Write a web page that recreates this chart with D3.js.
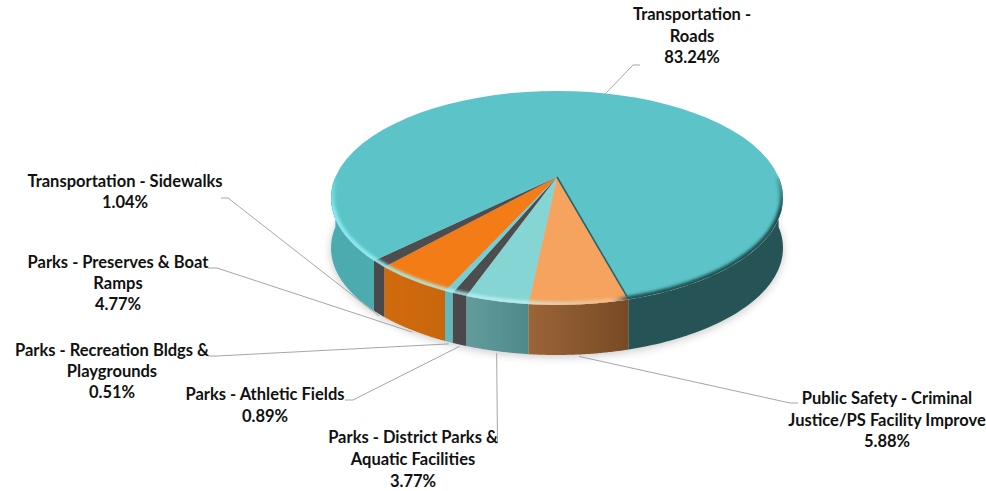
<!DOCTYPE html>
<html>
<head>
<meta charset="utf-8">
<script src="https://cdn.jsdelivr.net/npm/d3@7"></script>
<style>
  html, body { margin: 0; padding: 0; background: #fff; }
  svg { display: block; }
  text { font-family: Lato, "Open Sans", sans-serif; font-weight: 700; font-size: 16.5px; fill: #111; }
</style>
</head>
<body>
<svg id="chart" width="986" height="491"></svg>
<script>
// Capital spending shares, clockwise from the Public Safety wedge.
const categories = [
  "Public Safety - Criminal Justice/PS Facility Improve",
  "Parks - District Parks & Aquatic Facilities",
  "Parks - Athletic Fields",
  "Parks - Recreation Bldgs & Playgrounds",
  "Parks - Preserves & Boat Ramps",
  "Transportation - Sidewalks",
  "Transportation - Roads"
];
const shares = [5.88, 3.77, 0.89, 0.51, 4.77, 1.04, 83.24];
const labelLines = [
  ["Public Safety - Criminal", "Justice/PS Facility Improve"],
  ["Parks - District Parks &", "Aquatic Facilities"],
  ["Parks - Athletic Fields"],
  ["Parks - Recreation Bldgs &", "Playgrounds"],
  ["Parks - Preserves & Boat", "Ramps"],
  ["Transportation - Sidewalks"],
  ["Transportation -", "Roads"]
];

// Slice colours: top face, then side wall at its left and right ends.
const topColors  = ["#F5A35F", "#85D5D5", "#4D4D4F", "#74CFD3", "#F47B14", "#4D4D4F", "#5BC4C8"];
const wallLeft   = ["#9C6437", "#629C9C", "#4A4A4C", "#62B9BD", "#D06A10", "#4A4A4C", "#4CABAF"];
const wallRight  = ["#774A25", "#4F8A8B", "#4A4A4C", "#62B9BD", "#C9660F", "#4A4A4C", "#4CABAF"];
const farWall = "#265354";

// Label placement: centre x, first baseline, line step, leader start and elbow.
const labelLayout = [
  { x: 887, y: 404, step: 21.5, from: [798, 403], elbow: [790, 403] },
  { x: 413, y: 443, step: 22, from: [495, 443], elbow: [497.5, 443] },
  { x: 265, y: 400, step: 21.5, from: [345, 400], elbow: [353, 400] },
  { x: 112, y: 356, step: 21, from: [208, 356], elbow: [217, 356] },
  { x: 118, y: 268, step: 21, from: [208, 268], elbow: [217, 268] },
  { x: 125, y: 187, step: 21, from: [221, 198], elbow: [228, 198] },
  { x: 692, y: 20, step: 21.5, from: [640, 65], elbow: [633, 65] }
];

const svg = d3.select("#chart");
const defs = svg.append("defs");

// Tilted disc: a unit circle seen in perspective, its centre above the middle of the ellipse.
const apex = { x: 557, y: 177 };
const depth = 50;
const persp = { X: 221.6, Y: 102.9, c: -0.196 };

function project(angle, radius = 1) {
  const u = Math.sin(angle) * radius, v = -Math.cos(angle) * radius;
  const w = 1 + persp.c * v;
  return [apex.x + persp.X * u / w, apex.y + persp.Y * v / w];
}

const deg = Math.PI / 180;
const startAngle = 164.8 * deg;
const pie = d3.pie().sort(null).value(d => d)
  .startAngle(startAngle).endAngle(startAngle + 2 * Math.PI);
const arcs = pie(shares);

const steps = a => d3.range(0, 61).map(i => a[0] + (a[1] - a[0]) * i / 60);
const line = d3.line();
const rimPoints = (a0, a1, dy = 0) => steps([a0, a1]).map(t => {
  const p = project(t); return [p[0], p[1] + dy];
});

const blur = (id, sd) => defs.append("filter").attr("id", id)
  .attr("x", "-10%").attr("y", "-10%").attr("width", "120%").attr("height", "125%")
  .append("feGaussianBlur").attr("stdDeviation", sd);
blur("soft", 5);
blur("edge", 1.6);
blur("hair", 0.45);

// The top face outline keeps the rim bevel inside the disc.
defs.append("clipPath").attr("id", "topFace").append("path")
  .attr("d", line(rimPoints(0, 2 * Math.PI)) + "Z");

// The bevel fades in on its way down from the widest part of the disc.
const fade = defs.append("linearGradient").attr("id", "bevelFade")
  .attr("gradientUnits", "userSpaceOnUse")
  .attr("x1", 0).attr("x2", 0).attr("y1", 172).attr("y2", 212);
fade.append("stop").attr("offset", 0).attr("stop-color", "#fff").attr("stop-opacity", 0);
fade.append("stop").attr("offset", 1).attr("stop-color", "#fff").attr("stop-opacity", 1);
defs.append("mask").attr("id", "bevelMask")
  .attr("maskUnits", "userSpaceOnUse")
  .attr("x", 0).attr("y", 0).attr("width", 986).attr("height", 491)
  .append("rect").attr("width", 986).attr("height", 491).attr("fill", "url(#bevelFade)");

// Soft shadow beneath the disc.
svg.append("path")
  .attr("d", line(rimPoints(0, 2 * Math.PI, depth + 2)) + "Z")
  .attr("fill", "#000").attr("opacity", 0.22).attr("filter", "url(#soft)");

const pie3d = svg.append("g").attr("filter", "url(#hair)");

// Side wall: only the front half of the rim (angles 90° to 270°) is visible.
const frontStart = 90 * deg, frontEnd = 270 * deg;
function wallPath(a0, a1) {
  const upper = rimPoints(a0, a1);
  const lower = rimPoints(a0, a1, depth).reverse();
  return line(upper.concat(lower)) + "Z";
}

arcs.forEach((d, i) => {
  const ranges = [[d.startAngle, d.endAngle],
                  [d.startAngle + 2 * Math.PI, d.endAngle + 2 * Math.PI],
                  [d.startAngle - 2 * Math.PI, d.endAngle - 2 * Math.PI]];
  ranges.forEach(r => {
    const a0 = Math.max(r[0], frontStart), a1 = Math.min(r[1], frontEnd);
    if (a1 <= a0) return;
    const isRoads = i === arcs.length - 1;
    const rightHalf = isRoads && a0 < 180 * deg;
    const id = "wall" + i + (rightHalf ? "r" : "");
    const xs = [project(a0)[0], project(a1)[0]];
    const grad = defs.append("linearGradient").attr("id", id)
      .attr("gradientUnits", "userSpaceOnUse")
      .attr("x1", d3.min(xs)).attr("x2", d3.max(xs)).attr("y1", 0).attr("y2", 0);
    grad.append("stop").attr("offset", 0).attr("stop-color", rightHalf ? farWall : wallLeft[i]);
    grad.append("stop").attr("offset", 1).attr("stop-color", rightHalf ? farWall : wallRight[i]);
    pie3d.append("path").attr("d", wallPath(a0, a1)).attr("fill", `url(#${id})`);
  });
});

// Top face wedges.
arcs.forEach((d, i) => {
  const pts = [[apex.x, apex.y]].concat(rimPoints(d.startAngle, d.endAngle));
  pie3d.append("path").attr("d", line(pts) + "Z").attr("fill", topColors[i]);
});

// Bevel along the front rim: bright on the left, falling into shadow on the right.
const bevel = defs.append("linearGradient").attr("id", "bevel")
  .attr("gradientUnits", "userSpaceOnUse")
  .attr("x1", 332).attr("x2", 783).attr("y1", 0).attr("y2", 0);
[[0, "#86EBF0", 1], [0.42, "#C8F4F4", 0.75], [0.62, "#F6D0A6", 0.5],
 [0.655, "#1F4B4C", 0.95], [1, "#1F4B4C", 1]].forEach(s =>
  bevel.append("stop").attr("offset", s[0]).attr("stop-color", s[1]).attr("stop-opacity", s[2]));
pie3d.append("g").attr("mask", "url(#bevelMask)")
  .append("g").attr("clip-path", "url(#topFace)").append("path")
  .attr("d", line(rimPoints(frontStart, frontEnd)))
  .attr("fill", "none").attr("stroke", "url(#bevel)").attr("stroke-width", 7)
  .attr("filter", "url(#edge)");

// Dark seam where the Roads wedge meets the Public Safety wedge.
pie3d.append("path")
  .attr("d", line([[apex.x, apex.y], project(startAngle)]))
  .attr("fill", "none").attr("stroke", "#2F6364").attr("stroke-width", 1.6);

// Leader lines run from each label to the outer rim at the slice's mid-angle.
const leaders = svg.append("g").attr("fill", "none").attr("stroke", "#A6A6A6").attr("stroke-width", 1);
arcs.forEach((d, i) => {
  const mid = (d.startAngle + d.endAngle) / 2;
  const p = project(mid);
  const isBack = Math.cos(mid) > 0;
  const end = [p[0], p[1] + (isBack ? 0 : depth + 2)];
  const l = labelLayout[i];
  leaders.append("path").attr("d", line([l.from, l.elbow, end]));
});

// Category names and percentage labels.
const labels = svg.append("g").attr("text-anchor", "middle");
categories.forEach((name, i) => {
  const l = labelLayout[i];
  const rows = labelLines[i].concat(d3.format(".2f")(shares[i]) + "%");
  rows.forEach((row, r) => {
    labels.append("text").attr("x", l.x).attr("y", l.y + r * l.step).text(row);
  });
});
</script>
</body>
</html>
